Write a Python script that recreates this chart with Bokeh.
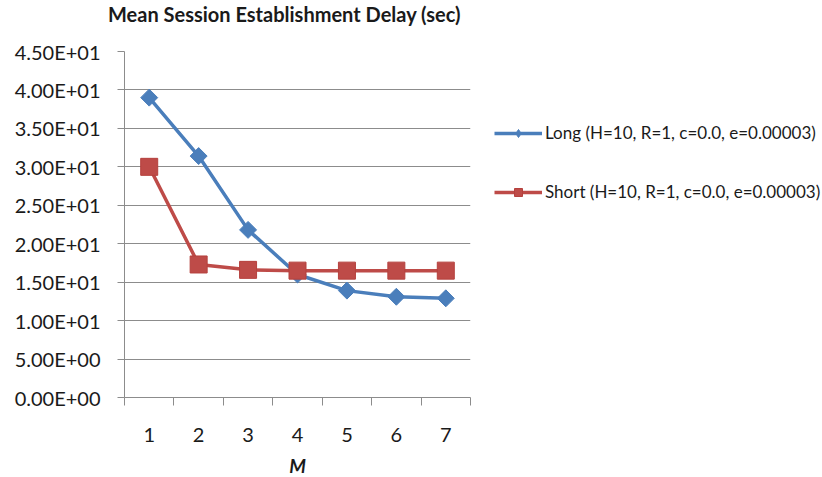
from bokeh.plotting import figure
from bokeh.models import FixedTicker, Legend, LegendItem, Range1d, Div
from bokeh.layouts import column
from bokeh.embed import file_html
from bokeh.resources import INLINE
import numpy as np

# ---- data ----
m_values = [1, 2, 3, 4, 5, 6, 7]
long_delay = [39.0, 31.4, 21.8, 16.0, 13.9, 13.1, 12.9]
short_delay = [30.0, 17.3, 16.6, 16.5, 16.5, 16.5, 16.5]
y_ticks = [0, 5, 10, 15, 20, 25, 30, 35, 40, 45]
y_tick_labels = ["0.00E+00", "5.00E+00", "1.00E+01", "1.50E+01", "2.00E+01",
                 "2.50E+01", "3.00E+01", "3.50E+01", "4.00E+01", "4.50E+01"]
long_label = "Long (H=10, R=1, c=0.0, e=0.00003)"
short_label = "Short (H=10, R=1, c=0.0, e=0.00003)"
title_text = "Mean Session Establishment Delay (sec)"
x_title = "M"

FONT = "Lato"
TXT = "#1a1a1a"
GRID = "#8c8c8c"
BLUE = "#4A7EBB"
RED = "#BE4B48"

# title as a block above the chart
title_div = Div(text=title_text, width=700, height=28, margin=(0, 0, 0, 0),
                styles={"font-family": FONT, "font-weight": "bold", "font-size": "20px",
                        "color": TXT, "line-height": "28px", "padding-left": "108px",
                        "white-space": "nowrap"})

p = figure(frame_width=346, frame_height=346, output_backend="svg", toolbar_location=None,
           x_range=Range1d(0.5, 7.5), y_range=Range1d(0, 45), title=None,
           min_border_left=124, min_border_right=5, min_border_top=23,
           min_border_bottom=80, margin=(0, 0, 0, 0))
p.outline_line_color = None
p.background_fill_color = "white"
p.border_fill_color = "white"

# y axis
p.yaxis.ticker = FixedTicker(ticks=y_ticks)
p.yaxis.major_label_overrides = {t: l for t, l in zip(y_ticks, y_tick_labels)}
p.yaxis.major_label_text_font = FONT
p.yaxis.major_label_text_font_size = "20px"
p.yaxis.major_label_text_color = TXT
p.yaxis.axis_line_color = GRID
p.yaxis.major_tick_line_color = GRID
p.yaxis.major_tick_out = 7
p.yaxis.major_tick_in = 0
p.yaxis.minor_tick_line_color = None
p.yaxis.major_label_standoff = 17

# x axis: labels at centres, tick marks at category boundaries
p.xaxis.ticker = FixedTicker(ticks=m_values,
                             minor_ticks=[v - 0.5 for v in m_values] + [m_values[-1] + 0.5])
p.xaxis.major_tick_line_color = None
p.xaxis.major_tick_out = 0
p.xaxis.major_tick_in = 0
p.xaxis.minor_tick_line_color = GRID
p.xaxis.minor_tick_out = 8
p.xaxis.minor_tick_in = 0
p.xaxis.axis_line_color = GRID
p.xaxis.major_label_text_font = FONT
p.xaxis.major_label_text_font_size = "20px"
p.xaxis.major_label_text_color = TXT
p.xaxis.major_label_standoff = 22
p.xaxis.axis_label = x_title
p.xaxis.axis_label_text_font = FONT
p.xaxis.axis_label_text_font_style = "bold italic"
p.xaxis.axis_label_text_font_size = "19px"
p.xaxis.axis_label_text_color = TXT
p.xaxis.axis_label_standoff = 9

p.xgrid.grid_line_color = None
p.ygrid.ticker = FixedTicker(ticks=y_ticks)
p.ygrid.grid_line_color = GRID
p.ygrid.grid_line_width = 1

# series
l1 = p.line(m_values, long_delay, line_color=BLUE, line_width=3.5)
s1 = p.scatter(m_values, long_delay, marker="square", angle=np.pi / 4, size=12,
               fill_color=BLUE, line_color=BLUE)
l2 = p.line(m_values, short_delay, line_color=RED, line_width=3.5)
s2 = p.scatter(m_values, short_delay, marker="square", size=17,
               fill_color=RED, line_color="#B5403D")
# legend-only glyph (small diamond as in the reference legend), kept off-range
s1_leg = p.scatter([-100], [-100], marker="diamond", fill_color=BLUE, line_color=BLUE)

legend = Legend(items=[LegendItem(label=long_label, renderers=[l1, s1_leg]),
                       LegendItem(label=short_label, renderers=[l2, s2])],
                location=(24, 195), orientation="vertical")
legend.padding = 0
legend.margin = 0
legend.spacing = 38
legend.glyph_width = 48
legend.glyph_height = 20
legend.label_height = 20
legend.label_standoff = 3
legend.label_text_font = FONT
legend.label_text_font_size = "17px"
legend.label_text_color = TXT
legend.border_line_color = None
legend.background_fill_alpha = 0
p.add_layout(legend, "right")

layout = column(title_div, p, spacing=0, margin=(0, 0, 0, 0))
open("out.html", "w").write(file_html(layout, INLINE))
